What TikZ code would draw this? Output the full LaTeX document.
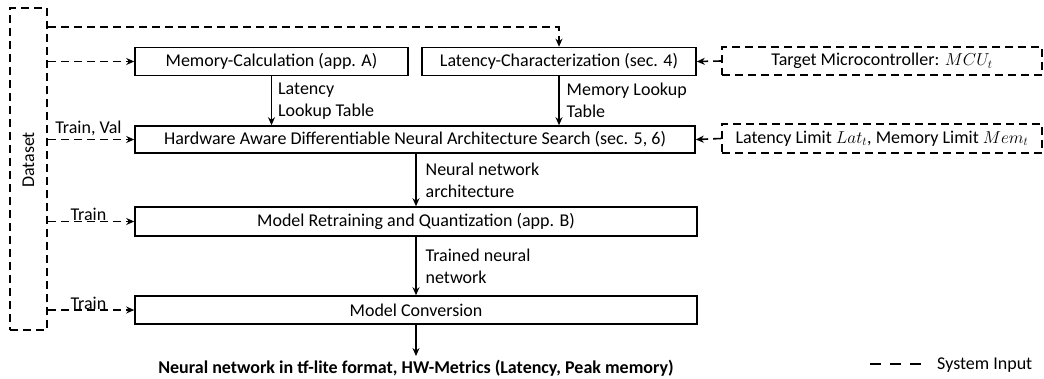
\documentclass[tikz,border=0pt]{standalone}
\usepackage{fontspec}
\setmainfont{Carlito}
\usetikzlibrary{arrows.meta}
\begin{document}
\begin{tikzpicture}[x=1pt,y=-1pt,
  font=\fontsize{18}{22}\selectfont,
  box/.style={draw,line width=1.6pt,minimum height=28pt,inner sep=0pt},
  inbox/.style={draw,line width=1.6pt,dash pattern=on 8pt off 5pt,minimum height=28pt,inner sep=0pt},
  flow/.style={line width=1.3pt,-{Stealth[length=8pt,width=7pt]}},
  dflow/.style={line width=1.6pt,dash pattern=on 8pt off 5pt,-{Stealth[length=8pt,width=7pt]}},
  lbl/.style={align=left,anchor=west,inner sep=0pt,font=\fontsize{18}{22}\selectfont}]
\useasboundingbox (0,0) rectangle (1044,378);
% nodes
\node[inbox,minimum width=37pt,minimum height=322pt] (ds) at (28.5,169) {};
\node[rotate=90] (dsl) at (28.5,160) {Dataset};
\node[box,minimum width=273pt] (mem) at (271.5,61.5) {Memory-Calculation (app. A)};
\node[box,minimum width=274pt] (lat) at (559,61.5) {Latency-Characterization (sec. 4)};
\node[inbox,minimum width=320pt] (mcu) at (882,61) {Target Microcontroller: $MCU_t$};
\node[box,minimum width=560pt,minimum height=27pt] (hw) at (415,139.5) {Hardware Aware Differentiable Neural Architecture Search (sec. 5, 6)};
\node[inbox,minimum width=320pt,minimum height=29pt] (lim) at (882,138.5) {Latency Limit $Lat_t$, Memory Limit $Mem_t$};
\node[box,minimum width=562pt,minimum height=29pt] (rt) at (416,221.5) {Model Retraining and Quantization (app. B)};
\node[box,minimum width=562pt] (cv) at (416,310) {Model Conversion};
\node[font=\fontsize{18}{22}\selectfont\bfseries] (out) at (416,368) {Neural network in tf-lite format, HW-Metrics (Latency, Peak memory)};
\node[anchor=west,inner sep=0pt] (leg) at (937,365) {System Input};
\coordinate (legs) at (870,364);
\coordinate (top) at (ds.east |- 0,27);
% solid flows
\draw[flow] (mem.south) -- (mem.south |- hw.north) node[lbl,midway,xshift=6pt] {Latency\\Lookup Table};
\draw[flow] (lat.south) -- (lat.south |- hw.north) node[lbl,midway,xshift=7pt] {Memory Lookup\\Table};
\draw[flow] (rt.north |- hw.south) -- (rt.north) node[lbl,midway,xshift=9pt] {Neural network\\architecture};
\draw[flow] (rt.south) -- (cv.north) node[lbl,midway,xshift=9pt] {Trained neural\\network};
\draw[flow] (cv.south) -- (cv.south |- 0,356);
% dashed inputs
\draw[dflow] (top) -| (lat.north);
\draw[dflow] (ds.east |- mem.west) -- (mem.west);
\draw[dflow] (ds.east |- hw.west) -- (hw.west) node[pos=0.47,above,inner sep=3pt] {Train, Val};
\draw[dflow] (ds.east |- rt.west) -- (rt.west) node[pos=0.47,above,inner sep=0pt] {Train};
\draw[dflow] (ds.east |- cv.west) -- (cv.west) node[pos=0.47,above,inner sep=0pt] {Train};
\draw[dflow] (mcu.west) -- (lat.east);
\draw[dflow] (lim.west) -- (hw.east);
\draw[line width=1.6pt,dash pattern=on 11pt off 9pt] (legs) -- ++(51,0);
\end{tikzpicture}
\end{document}
